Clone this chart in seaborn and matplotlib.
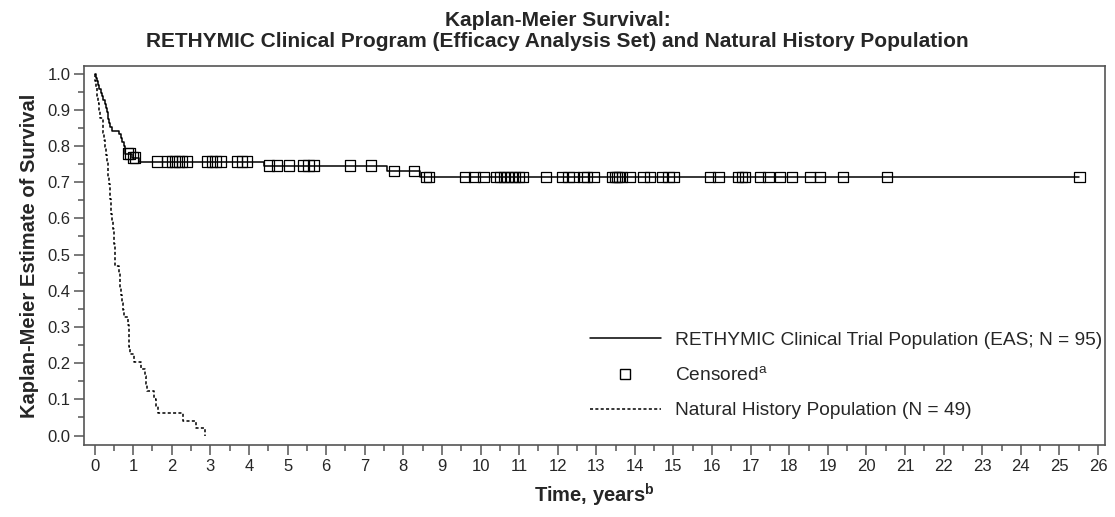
import numpy as np
import matplotlib
matplotlib.use("Agg")
import matplotlib.pyplot as plt
import seaborn as sns
from matplotlib.lines import Line2D
from matplotlib.ticker import MultipleLocator

# -------------------------
# Data
# -------------------------

# RETHYMIC clinical trial (EAS), step changes of the KM curve
reth_time = [0, 0.03, 0.06, 0.09, 0.12, 0.16, 0.19, 0.23, 0.26, 0.29, 0.32, 0.34,
             0.36, 0.38, 0.41, 0.45, 0.64, 0.68, 0.71, 0.75, 0.80, 0.97, 1.15,
             4.38, 7.57, 8.44, 25.52]
reth_surv = [1.0, 0.989, 0.979, 0.968, 0.958, 0.947, 0.937, 0.926, 0.916, 0.905,
             0.895, 0.884, 0.874, 0.863, 0.853, 0.842, 0.832, 0.821, 0.811, 0.800,
             0.779, 0.768, 0.757, 0.746, 0.730, 0.714, 0.714]

# censored subjects (years)
censor_time = [0.86, 0.92, 1.00, 1.05, 1.62, 1.88, 2.00, 2.09, 2.18, 2.26, 2.39,
               2.91, 3.04, 3.13, 3.26, 3.69, 3.82, 3.95, 4.51, 4.73, 5.03, 5.41,
               5.54, 5.67, 6.62, 7.16, 7.75, 8.28, 8.58, 8.66, 9.60, 9.84, 10.08,
               10.40, 10.50, 10.60, 10.70, 10.80, 10.90, 11.00, 11.10, 11.70,
               12.11, 12.28, 12.41, 12.67, 12.76, 12.93, 13.40, 13.49, 13.53,
               13.58, 13.66, 13.88, 14.22, 14.40, 14.70, 14.87, 15.00, 15.95,
               16.17, 16.68, 16.77, 16.86, 17.25, 17.46, 17.76, 18.07, 18.54,
               18.80, 19.39, 20.53, 25.52]

# Natural history population
nh_time = [0, 0.02, 0.04, 0.06, 0.09, 0.12, 0.15, 0.21, 0.23, 0.25, 0.27, 0.29,
           0.31, 0.34, 0.36, 0.38, 0.40, 0.41, 0.42, 0.43, 0.45, 0.47, 0.49, 0.51,
           0.52, 0.53, 0.54, 0.63, 0.65, 0.67, 0.69, 0.71, 0.73, 0.75, 0.87, 0.88,
           0.89, 0.90, 0.91, 1.02, 1.20, 1.30, 1.34, 1.37, 1.54, 1.58, 1.63, 2.30,
           2.64, 2.87]
nh_count = [49, 48, 47, 46, 45, 44, 43, 42, 41, 40, 39, 38, 37, 36, 35, 34, 33,
            32, 31, 30, 29, 28, 27, 26, 25, 24, 23, 22, 21, 20, 19, 18, 17, 16,
            15, 14, 13, 12, 11, 10, 9, 8, 7, 6, 5, 4, 3, 2, 1, 0]
nh_surv = [k / 49 for k in nh_count]

x_ticks = list(range(0, 27))
y_ticks = [round(0.1 * i, 1) for i in range(11)]

# survival value at each censor time
idx = np.searchsorted(reth_time, censor_time, side="right") - 1
censor_surv = np.array(reth_surv)[idx]

# -------------------------
# Plot
# -------------------------
sns.set_style("ticks")
plt.rcParams["font.family"] = ["Liberation Sans", "DejaVu Sans"]
plt.rcParams["mathtext.fontset"] = "custom"
plt.rcParams["mathtext.rm"] = "Liberation Sans"
plt.rcParams["mathtext.bf"] = "Liberation Sans:bold"

fig = plt.figure(figsize=(11.15, 5.17), dpi=100)
ax = fig.add_axes([0.0756, 0.1393, 0.9154, 0.733])

sns.lineplot(x=reth_time, y=reth_surv, ax=ax, color="black", lw=1.1,
             drawstyle="steps-post", estimator=None, sort=False)
sns.lineplot(x=nh_time, y=nh_surv, ax=ax, color="black", lw=1.1,
             drawstyle="steps-post", estimator=None, sort=False,
             linestyle=(0, (2, 1.5)))
sns.scatterplot(x=censor_time, y=censor_surv, ax=ax, marker="s", s=55,
                fc="none", ec="black", linewidth=0.9, zorder=3)

ax.set_xlim(-0.267, 26.18)
ax.set_ylim(-0.026, 1.021)
ax.set_xticks(x_ticks)
ax.set_yticks(y_ticks)
ax.set_yticklabels([f"{v:.1f}" for v in y_ticks])
ax.xaxis.set_minor_locator(MultipleLocator(0.5))
ax.yaxis.set_minor_locator(MultipleLocator(0.05))
ax.tick_params(which="major", direction="out", length=7, width=1.1,
               color="#555555", labelsize=12, pad=3)
ax.tick_params(which="minor", direction="out", length=4, width=1.1,
               color="#555555")
for side in ["left", "bottom", "right", "top"]:
    ax.spines[side].set_visible(True)
    ax.spines[side].set_color("#555555")
    ax.spines[side].set_linewidth(1.2)

ax.set_xlabel("Time, years$^{\\mathbf{b}}$", fontsize=14.5, fontweight="bold",
              labelpad=6)
ax.set_ylabel("Kaplan-Meier Estimate of Survival", fontsize=14.5,
              fontweight="bold", labelpad=6)
# title is centred on the whole figure, not on the axes
ax.set_title("Kaplan-Meier Survival:\nRETHYMIC Clinical Program (Efficacy "
             "Analysis Set) and Natural History Population",
             fontsize=15, fontweight="bold", pad=14, linespacing=1.1,
             x=0.4636)

handles = [
    Line2D([], [], color="black", lw=1.1),
    Line2D([], [], color="black", marker="s", mfc="none", ms=7, lw=0),
    Line2D([], [], color="black", lw=1.1, linestyle=(0, (2, 1.5))),
]
labels = ["RETHYMIC Clinical Trial Population (EAS; N = 95)",
          "Censored$^{\\mathrm{a}}$",
          "Natural History Population (N = 49)"]
ax.legend(handles, labels, loc="upper left", bbox_to_anchor=(0.4955, 0.30),
          bbox_transform=ax.transAxes, frameon=False, fontsize=13.8,
          handlelength=3.7, handletextpad=0.75, labelspacing=0.9,
          borderpad=0, borderaxespad=0)

fig.savefig("out.png", dpi=100)
